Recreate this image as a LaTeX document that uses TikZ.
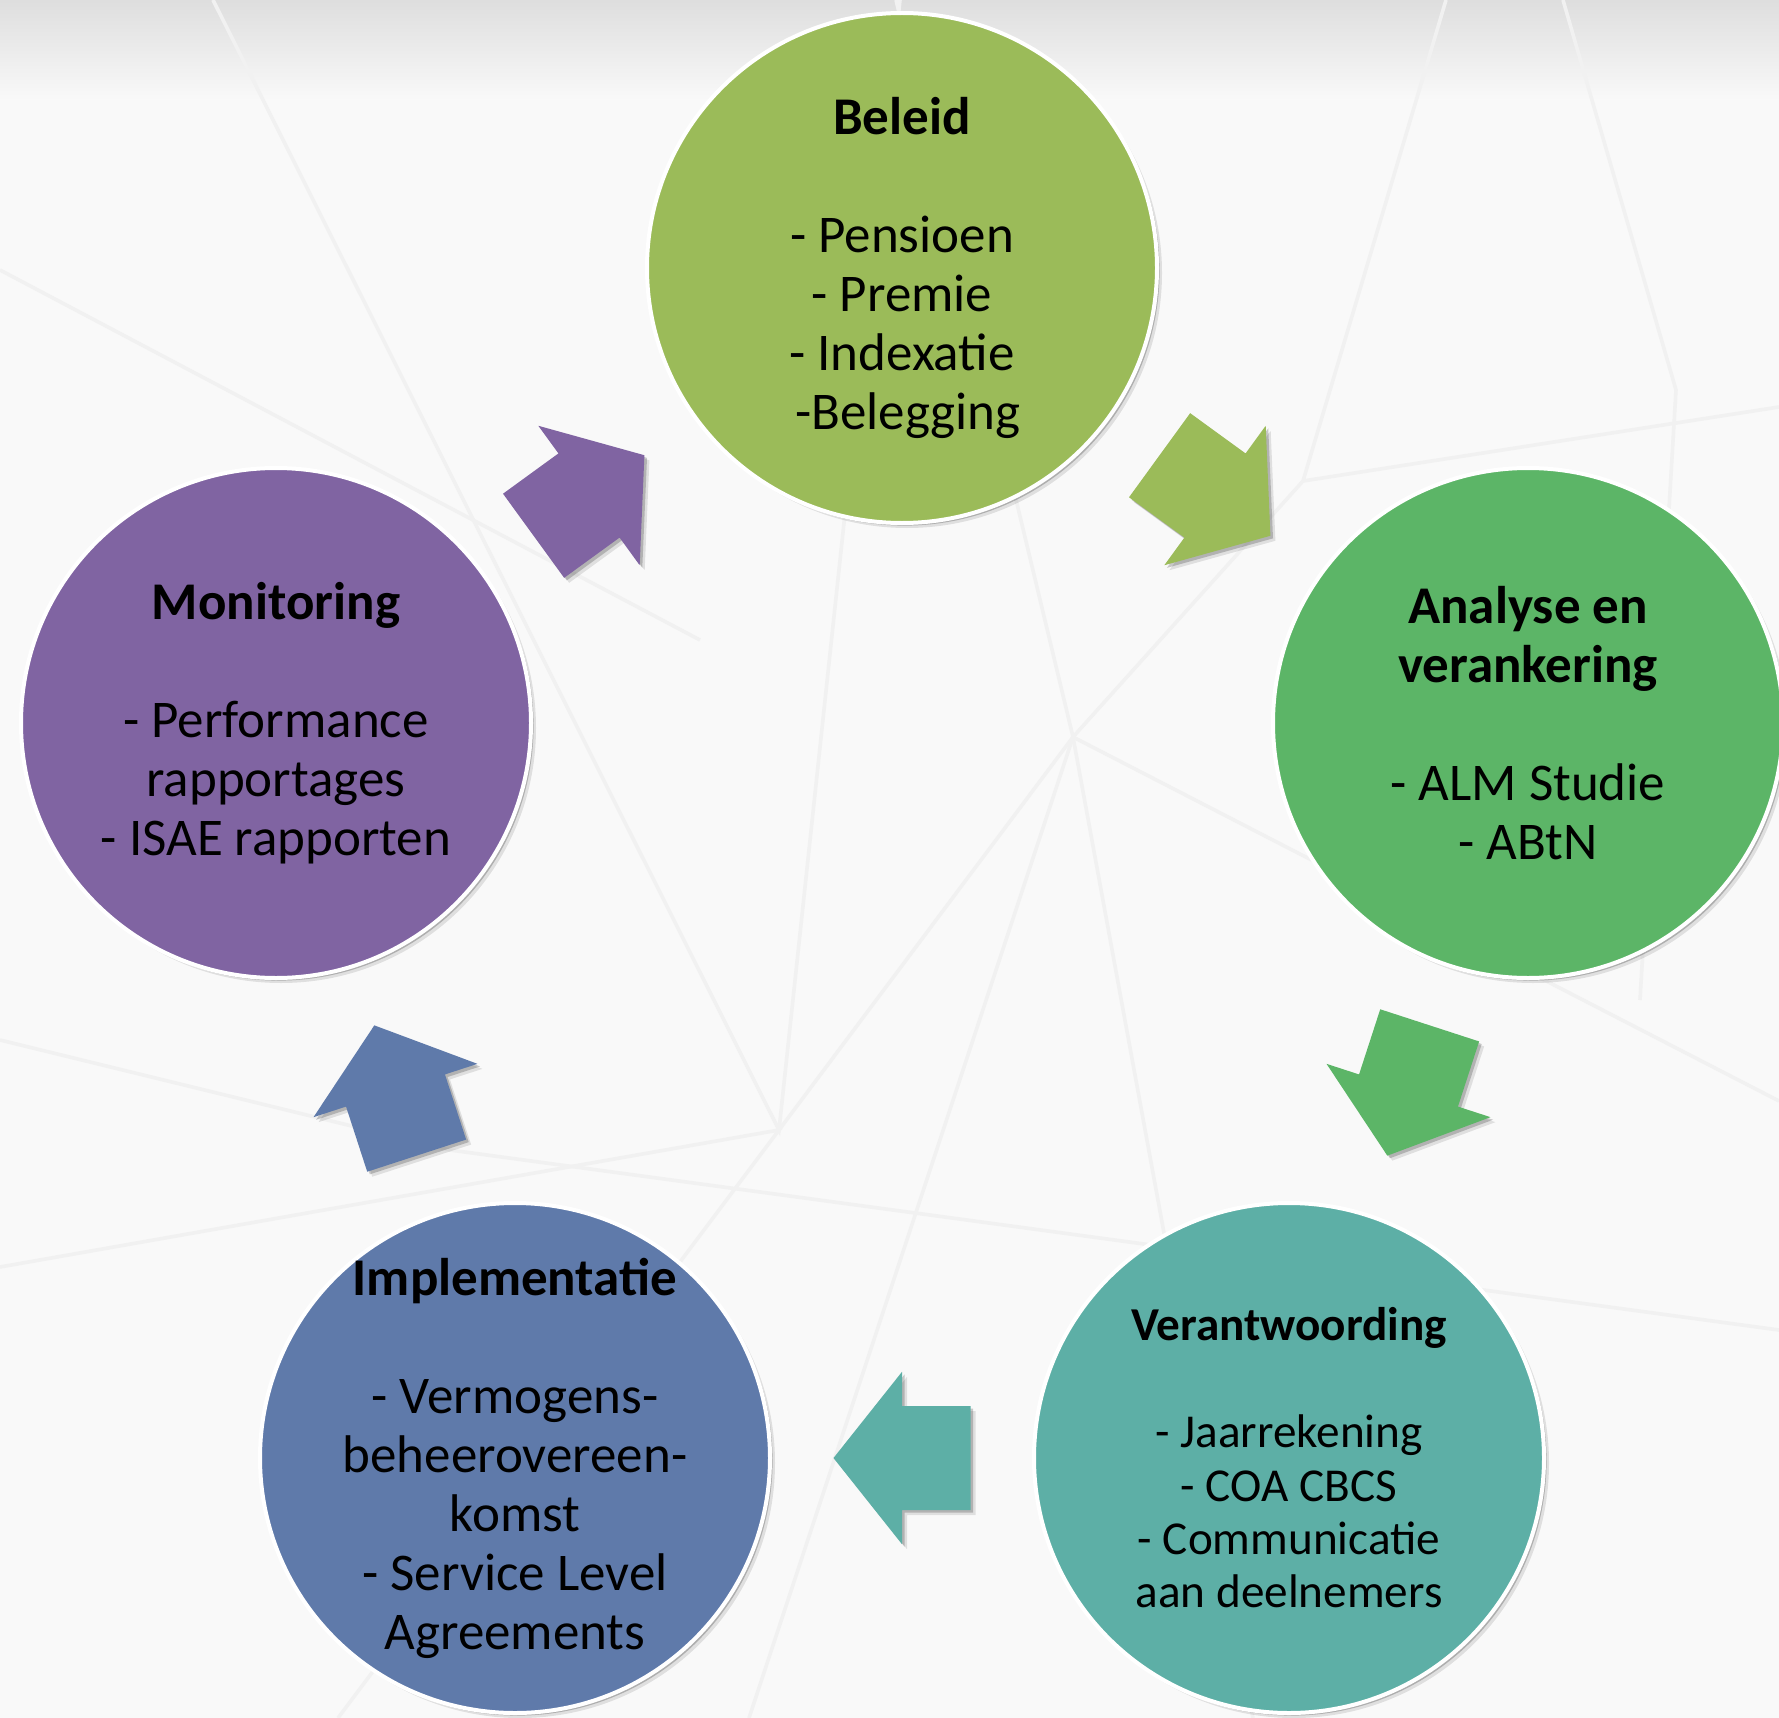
\documentclass[tikz,border=0pt]{standalone}
\usepackage{fontspec}
\setmainfont{Carlito}
\usetikzlibrary{calc,shadows}
\definecolor{bg}{HTML}{F9F9F9}
\definecolor{bgline}{HTML}{F1F1F1}
\definecolor{cBel}{HTML}{9BBB59}
\definecolor{cAna}{HTML}{5CB567}
\definecolor{cVer}{HTML}{5DAFA6}
\definecolor{cImp}{HTML}{5F7AAA}
\definecolor{cMon}{HTML}{8064A2}
\newcommand\blockarr[3]{%
  \coordinate (#1#2m) at ($(#1)!0.5!(#2)$);
  \coordinate (#1#2t) at ($(#1#2m)!-34.25pt!(#2)$);
  \coordinate (#1#2p) at ($(#1#2m)!34.25pt!(#2)$);
  \fill[#3, arrshadow]
    ($(#1#2t)!26pt!90:(#2)$) -- ($(#1#2m)!26pt!90:(#2)$) --
    ($(#1#2m)!43.1pt!90:(#2)$) -- (#1#2p) --
    ($(#1#2m)!43.1pt!-90:(#2)$) -- ($(#1#2m)!26pt!-90:(#2)$) --
    ($(#1#2t)!26pt!-90:(#2)$) -- cycle;}
\begin{document}
\begin{tikzpicture}[x=0.5pt,y=-0.5pt,
  circ/.style={circle, draw=white, line width=2pt, minimum size=255pt, inner sep=0pt,
    drop shadow={shadow xshift=2.5pt, shadow yshift=-2.5pt, opacity=0.10, fill=black},
    drop shadow={shadow xshift=1.3pt, shadow yshift=-1.3pt, opacity=0.22, fill=black}},
  arrshadow/.style={
    drop shadow={shadow xshift=2.5pt, shadow yshift=-2.5pt, opacity=0.10, fill=black},
    drop shadow={shadow xshift=1.3pt, shadow yshift=-1.3pt, opacity=0.20, fill=black}},
  txt/.style={align=center, text=black, font=\fontsize{26.5}{29.5}\selectfont},
  txts/.style={align=center, text=black, font=\fontsize{23.6}{26.7}\selectfont},
  bgl/.style={draw=bgline, line width=1.8pt}]
\useasboundingbox (0,0) rectangle (1779,1718);
\fill[bg] (0,0) rectangle (1779,1718);
\shade[top color=black!13, bottom color=bg] (0,0) rectangle (1779,100);
% faint background lines
\coordinate (j1) at (1073,737);
\coordinate (j2) at (779,1130);
\coordinate (j3) at (1303,481);
\draw[bgl] (896,0) -- (j1) -- (1779,1101);
\draw[bgl] (j1) -- (j2);
\draw[bgl] (j1) -- (749,1718);
\draw[bgl] (j1) -- (1253,1718);
\draw[bgl] (j1) -- (j3);
\draw[bgl] (213,0) -- (j2) -- (900,0);
\draw[bgl] (0,1267) -- (j2) -- (338,1718);
\draw[bgl] (1446,0) -- (j3) -- (1779,407);
\draw[bgl] (1563,0) -- (1676,390) -- (1640,1000);
\draw[bgl] (0,270) -- (700,640);
\draw[bgl] (0,1040) -- (450,1150) -- (1779,1330);
% circles
\node[circ, fill=cBel] (bel) at (902,268) {};
\node[circ, fill=cAna] (ana) at (1528,723) {};
\node[circ, fill=cVer] (ver) at (1289,1458) {};
\node[circ, fill=cImp] (imp) at (515,1458) {};
\node[circ, fill=cMon] (mon) at (276,723) {};
% block arrows
\blockarr{bel}{ana}{cBel}
\blockarr{ana}{ver}{cAna}
\blockarr{ver}{imp}{cVer}
\blockarr{imp}{mon}{cImp}
\blockarr{mon}{bel}{cMon}
% texts
\node[txt] (bel-t) at (bel) {\textbf{Beleid}\\[29.5pt]- Pensioen\\- Premie\\- Indexatie\\\hspace*{6pt}-Belegging};
\node[txt] (ana-t) at (ana) {\textbf{Analyse en}\\\textbf{verankering}\\[29.5pt]- ALM Studie\\- ABtN};
\node[txts] (ver-t) at (ver) {\textbf{Verantwoording}\\[26.7pt]- Jaarrekening\\- COA CBCS\\- Communicatie\\aan deelnemers};
\node[txt] (imp-t) at (imp) {\textbf{Implementatie}\\[29.5pt]- Vermogens-\\beheerovereen-\\komst\\- Service Level\\Agreements};
\node[txt] (mon-t) at (mon) {\textbf{Monitoring}\\[29.5pt]- Performance\\rapportages\\- ISAE rapporten};
\end{tikzpicture}
\end{document}
